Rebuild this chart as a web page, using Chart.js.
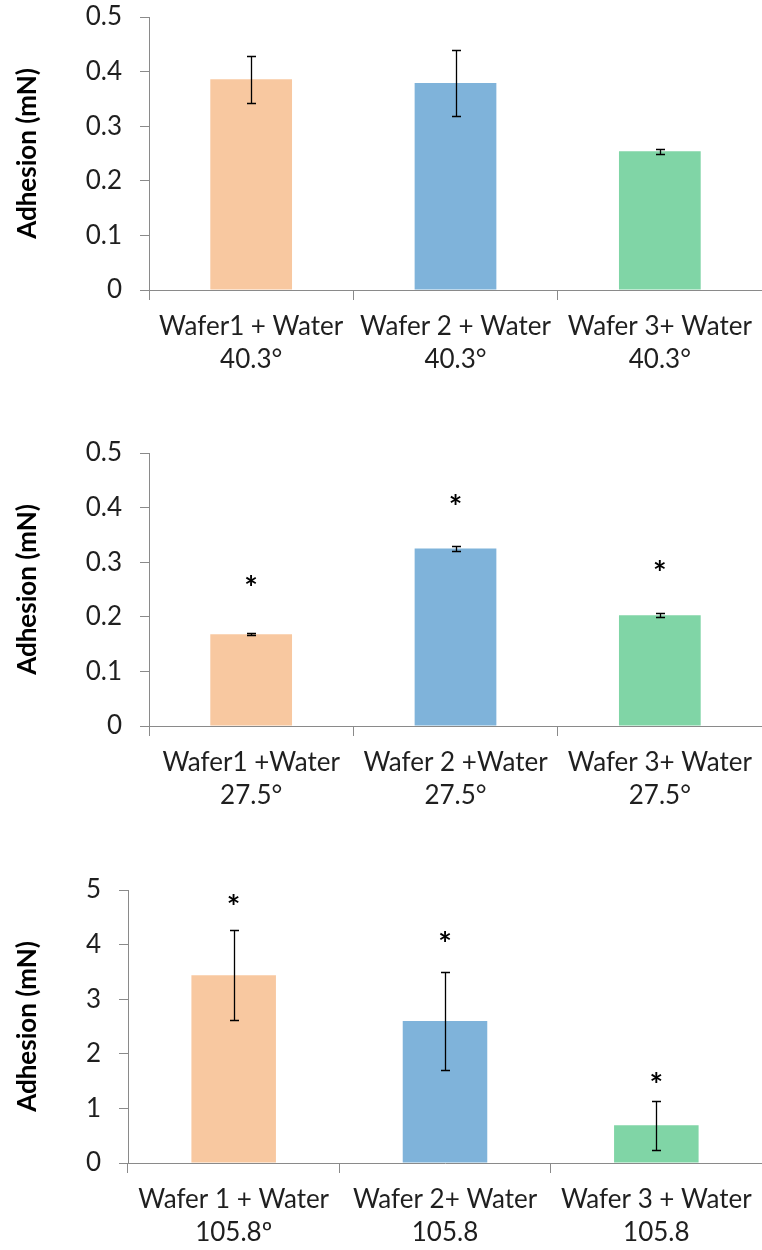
<!DOCTYPE html>
<html>
<head>
<meta charset="utf-8">
<script src="https://cdn.jsdelivr.net/npm/chart.js@4.4.0/dist/chart.umd.min.js"></script>
<style>
  html, body { margin: 0; padding: 0; background: #ffffff; }
  body { width: 762px; height: 1250px; position: relative; overflow: hidden; }
  canvas { position: absolute; left: 0; }
</style>
</head>
<body>
<canvas id="panelA" width="762" height="402" style="top:-17px"></canvas>
<canvas id="panelB" width="762" height="401" style="top:419px"></canvas>
<canvas id="panelC" width="762" height="400" style="top:850px"></canvas>
<script>
// ---- Data: contact angle 40.3°
const categoriesA = [["Wafer1 + Water", "40.3°"], ["Wafer 2 + Water", "40.3°"], ["Wafer 3+ Water", "40.3°"]];
const adhesionA = [0.386, 0.379, 0.254];
const errorA = [0.043, 0.061, 0.004];

// ---- Data: contact angle 27.5°
const categoriesB = [["Wafer1 +Water", "27.5°"], ["Wafer 2 +Water", "27.5°"], ["Wafer 3+ Water", "27.5°"]];
const adhesionB = [0.168, 0.325, 0.203];
const errorB = [0.002, 0.005, 0.004];
const significanceB = [0.268, 0.415, 0.294];   // height (mN) of the "*" markers

// ---- Data: contact angle 105.8°
const categoriesC = [["Wafer 1 + Water", "105.8º"], ["Wafer 2+ Water", "105.8"], ["Wafer 3 + Water", "105.8"]];
const adhesionC = [3.44, 2.60, 0.69];
const errorC = [0.83, 0.90, 0.45];
const significanceC = [4.83, 4.16, 1.57];

// ---- Axis tick labels
const ticksFine = ["0", "0.1", "0.2", "0.3", "0.4", "0.5"];
const ticksCoarse = ["0", "1", "2", "3", "4", "5"];

// ---- Styling
const FONT = "Lato";
const TEXT = "#1f1f1f";
const AXIS = "#8a8a8a";
const BAR_COLORS = ["#F8C8A0", "#7FB3DA", "#80D5A6"];

// Error whiskers and significance asterisks drawn over the bars
const whiskerPlugin = {
  id: "whiskers",
  afterDatasetsDraw(chart) {
    const { ctx, scales: { y } } = chart;
    const ds = chart.data.datasets[0];
    const meta = chart.getDatasetMeta(0);
    ctx.save();
    ctx.strokeStyle = "#000000";
    ctx.lineWidth = 1.3;
    meta.data.forEach((bar, i) => {
      const v = ds.data[i], e = ds.errors[i];
      const yt = Math.round(y.getPixelForValue(v + e)) + 0.5;
      const yb = Math.round(y.getPixelForValue(v - e)) + 0.5;
      const x = Math.round(bar.x) + 0.5;
      const cap = 4.5;
      ctx.beginPath();
      ctx.moveTo(x, yt); ctx.lineTo(x, yb);
      ctx.moveTo(x - cap, yt); ctx.lineTo(x + cap, yt);
      ctx.moveTo(x - cap, yb); ctx.lineTo(x + cap, yb);
      ctx.stroke();
    });
    if (ds.marks) {
      ctx.fillStyle = "#000000";
      ctx.font = "bold 32px " + FONT;
      ctx.textAlign = "center";
      ctx.textBaseline = "alphabetic";
      const m = ctx.measureText("*");
      const shift = (m.actualBoundingBoxAscent - m.actualBoundingBoxDescent) / 2;
      meta.data.forEach((bar, i) => {
        const cy = y.getPixelForValue(ds.marks[i]);
        ctx.fillText("*", bar.x, cy + shift);
      });
    }
    ctx.restore();
  }
};

function buildPanel(id, cats, values, errors, marks, tickLabels, maxY, step, yWidth, xHeight, padTop) {
  return new Chart(document.getElementById(id), {
    type: "bar",
    data: {
      labels: cats,
      datasets: [{
        data: values,
        errors: errors,
        marks: marks,
        backgroundColor: BAR_COLORS,
        borderWidth: 0,
        categoryPercentage: 1.0,
        barPercentage: 0.4
      }]
    },
    options: {
      responsive: false,
      animation: false,
      devicePixelRatio: 1,
      layout: { padding: { top: padTop, right: 0, left: 0, bottom: 0 } },
      plugins: { legend: { display: false }, tooltip: { enabled: false } },
      scales: {
        x: {
          ticks: {
            color: TEXT,
            font: { family: FONT, size: 26, lineHeight: 1.28 },
            padding: 10,
            maxRotation: 0,
            autoSkip: false
          },
          grid: { drawOnChartArea: false, drawTicks: true, tickLength: 10, color: AXIS, lineWidth: 1, offset: true },
          border: { color: AXIS, width: 1 },
          afterFit: s => { s.height = xHeight; }
        },
        y: {
          min: 0,
          max: maxY,
          ticks: {
            stepSize: step,
            color: TEXT,
            font: { family: FONT, size: 26 },
            padding: 18,
            callback: (v, i) => tickLabels[i]
          },
          grid: { drawOnChartArea: false, drawTicks: true, tickLength: 9, color: AXIS, lineWidth: 1 },
          border: { color: AXIS, width: 1 },
          title: {
            display: true,
            text: "Adhesion (mN)",
            color: "#000000",
            font: { family: FONT, size: 26, weight: "bold" },
            padding: { top: 12, bottom: 0 }
          },
          afterFit: s => { s.width = yWidth; }
        }
      }
    },
    plugins: [whiskerPlugin]
  });
}

buildPanel("panelA", categoriesA, adhesionA, errorA, null, ticksFine, 0.5, 0.1, 149, 95, 34);
buildPanel("panelB", categoriesB, adhesionB, errorB, significanceB, ticksFine, 0.5, 0.1, 149, 94, 34);
buildPanel("panelC", categoriesC, adhesionC, errorC, significanceC, ticksCoarse, 5, 1, 128, 87, 40);
</script>
</body>
</html>
